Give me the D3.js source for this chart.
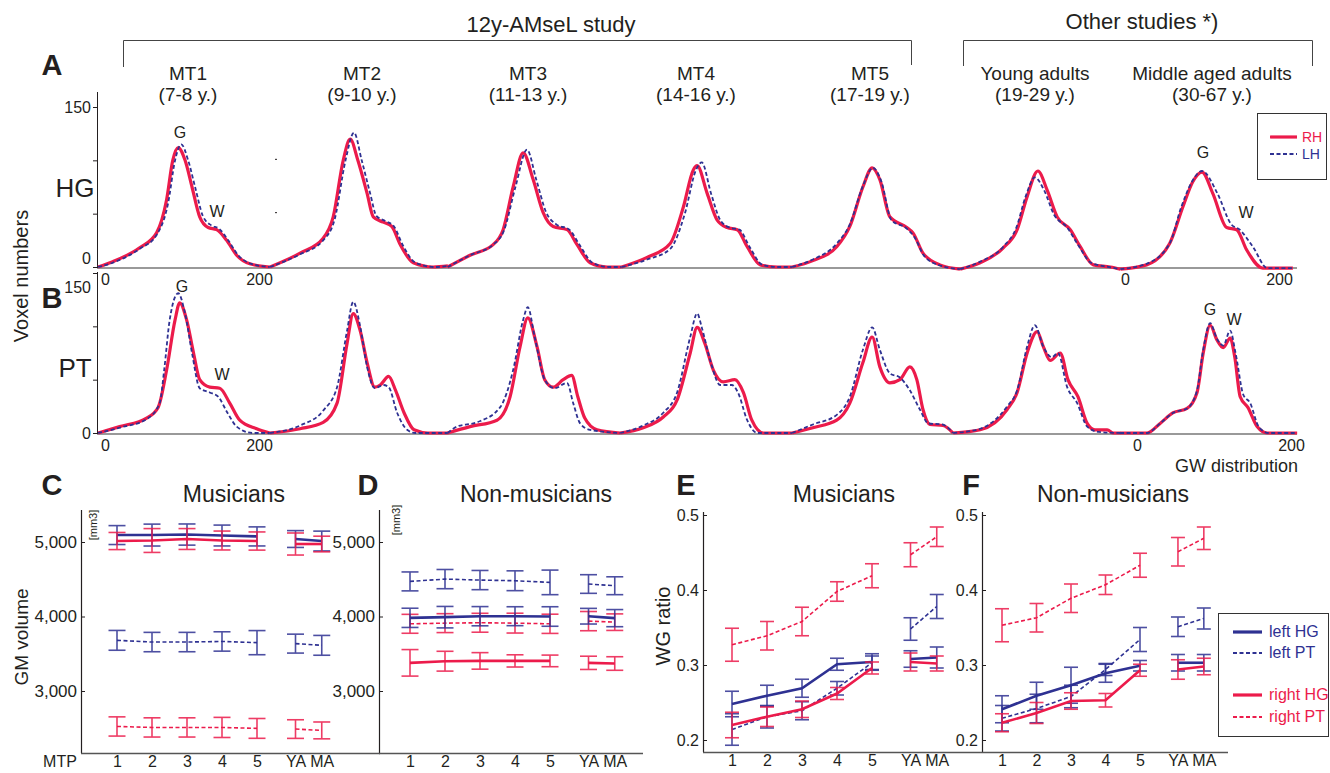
<!DOCTYPE html>
<html>
<head>
<meta charset="utf-8">
<script src="https://cdn.jsdelivr.net/npm/d3@7"></script>
<style>
  body { margin: 0; background: #fff; }
  svg text { font-family: "Liberation Sans", Arial, Helvetica, sans-serif; fill: #231f20; }
</style>
</head>
<body>
<svg id="fig" width="1330" height="773"></svg>
<script>
// ---------- data: GW distributions (pairs of [GW value, voxel number]) ----------
var groupNames = ["MT1", "MT2", "MT3", "MT4", "MT5", "Young adults", "Middle aged adults"];
var groupAges = ["(7-8 y.)", "(9-10 y.)", "(11-13 y.)", "(14-16 y.)", "(17-19 y.)", "(19-29 y.)", "(30-67 y.)"];

var hgRH = [
  [[-9,0],[10,5],[45,18],[67,32],[80,63],[88,100],[95,112],[104,100],[113,75],[123,47],[134,37],[145,35],[158,25],[171,11],[188,3],[214,0]],
  [[-9,0],[30,13],[60,27],[73,47],[86,100],[95,120],[105,100],[117,69],[125,47],[138,42],[149,38],[160,21],[177,4],[203,0],[222,1]],
  [[-3,0],[26,11],[56,21],[69,35],[82,75],[95,107],[108,82],[121,51],[134,38],[152,35],[165,21],[182,4],[204,0],[223,0]],
  [[-3,0],[30,9],[60,22],[77,56],[90,91],[95,95],[108,69],[121,44],[134,37],[147,35],[160,19],[177,2],[199,0],[218,0]],
  [[-9,0],[18,6],[49,19],[66,38],[83,75],[95,93],[105,82],[118,47],[140,37],[148,32],[161,13],[183,2],[209,-2]],
  [[-5,-2],[21,4],[51,18],[69,35],[82,66],[96,90],[108,72],[121,47],[138,35],[151,19],[168,2],[190,0],[203,-2]],
  [[-6,-2],[28,2],[58,22],[75,56],[88,80],[100,89],[114,69],[132,37],[145,35],[158,16],[179,-1],[218,-1]]
];
var hgLH = [
  [[-9,0],[10,4],[45,17],[67,30],[82,60],[91,100],[99,115],[108,100],[117,75],[127,48],[138,39],[148,36],[160,25],[173,11],[190,3],[214,0]],
  [[-9,0],[30,12],[60,25],[75,45],[89,100],[100,126],[110,100],[121,69],[129,48],[141,43],[152,38],[163,21],[180,4],[205,0],[222,1]],
  [[-3,0],[26,11],[56,21],[70,34],[85,75],[100,110],[112,82],[125,51],[138,40],[155,35],[168,21],[185,4],[206,0],[223,0]],
  [[-3,0],[30,7],[60,17],[79,50],[93,90],[101,98],[113,69],[125,44],[137,37],[150,35],[163,19],[180,2],[200,0],[218,0]],
  [[-9,0],[18,7],[49,22],[66,40],[83,76],[96,93],[107,80],[120,44],[140,36],[150,28],[163,10],[185,1],[209,-2]],
  [[-5,-2],[21,5],[51,19],[68,37],[80,66],[92,84],[104,72],[117,49],[134,37],[148,21],[165,4],[188,0],[203,-2]],
  [[-6,-2],[28,3],[58,22],[73,56],[87,80],[100,90],[120,69],[138,40],[149,35],[166,19],[185,-1],[218,-1]]
];
var ptRH = [
  [[-9,0],[19,6],[54,14],[69,24],[80,59],[91,106],[97,122],[106,106],[115,75],[123,50],[136,43],[149,42],[162,28],[175,12],[197,4],[214,0]],
  [[-9,0],[30,4],[60,10],[78,28],[91,84],[99,112],[108,96],[117,66],[127,43],[134,45],[145,53],[154,40],[165,19],[178,3],[196,0],[222,0]],
  [[-3,0],[26,6],[61,12],[78,34],[91,81],[101,108],[113,81],[123,50],[134,43],[147,50],[158,54],[166,34],[175,14],[191,3],[221,0]],
  [[-5,0],[25,5],[51,15],[69,31],[86,75],[95,99],[105,84],[116,59],[129,48],[144,50],[155,38],[166,12],[181,0],[218,0]],
  [[-9,0],[18,5],[49,12],[66,28],[83,66],[95,90],[105,62],[118,47],[131,50],[144,62],[153,50],[161,22],[170,8],[187,7],[200,0]],
  [[-14,0],[21,3],[56,22],[69,38],[82,75],[95,95],[103,81],[112,68],[125,75],[135,50],[148,34],[160,9],[170,3],[186,3],[194,0],[203,0]],
  [[-22,0],[13,0],[30,9],[47,19],[65,23],[78,38],[86,75],[95,101],[104,87],[112,80],[121,89],[127,71],[134,34],[144,24],[156,6],[169,0],[208,0]]
];
var ptLH = [
  [[-9,0],[19,5],[54,13],[71,28],[77,60],[84,106],[95,131],[104,112],[113,75],[123,42],[136,38],[147,34],[159,19],[171,6],[192,0],[214,0]],
  [[-9,0],[30,7],[60,21],[78,43],[91,96],[99,123],[108,100],[117,62],[127,42],[138,45],[145,43],[156,19],[169,3],[180,0],[222,0]],
  [[-3,0],[9,6],[35,10],[65,24],[82,59],[95,106],[101,118],[110,90],[123,50],[136,42],[152,47],[160,28],[169,9],[182,3],[221,0]],
  [[-5,0],[25,7],[51,19],[69,38],[86,90],[95,112],[101,99],[112,68],[125,45],[140,45],[148,38],[160,12],[173,0],[218,0]],
  [[-9,0],[18,8],[49,17],[66,34],[83,78],[95,99],[105,78],[118,56],[131,52],[144,40],[157,22],[168,9],[186,8],[200,0]],
  [[-14,0],[21,4],[56,25],[69,40],[82,81],[92,101],[103,81],[114,71],[122,75],[134,43],[147,28],[160,6],[175,1],[203,0]],
  [[-22,0],[13,0],[30,9],[47,19],[65,23],[78,40],[86,78],[95,103],[104,88],[112,82],[121,96],[128,75],[138,36],[147,28],[158,6],[171,0],[208,0]]
];

// ---------- data: GM volume and WG ratio, [mean, error] per time point ----------
var mtpLabels = ["1", "2", "3", "4", "5", "YA", "MA"];

var musGM_leftHG  = [[5093,127],[5093,147],[5100,142],[5087,140],[5075,128],[5040,113],[5013,133]];
var musGM_rightHG = [[5013,115],[5020,160],[5040,140],[5020,127],[5013,122],[4973,148],[4973,105]];
var musGM_leftPT  = [[3680,133],[3657,130],[3657,130],[3665,130],[3649,162],[3636,127],[3613,133]];
var musGM_rightPT = [[2524,129],[2511,129],[2511,129],[2511,135],[2498,133],[2489,125],[2471,113]];

var nonGM_leftHG  = [[3982,129],[3991,144],[4004,129],[4004,127],[4000,131],[4004,105],[3978,115]];
var nonGM_rightHG = [[3378,178],[3400,133],[3404,111],[3404,82],[3404,78],[3378,89],[3369,91]];
var nonGM_leftPT  = [[4471,127],[4502,129],[4489,129],[4480,133],[4458,165],[4436,125],[4413,120]];
var nonGM_rightPT = [[3902,127],[3911,127],[3916,127],[3911,133],[3902,129],[3938,129],[3924,111]];

var musWG_leftHG  = [[0.248,0.017],[0.259,0.014],[0.269,0.012],[0.301,0.008],[0.304,0.011],[0.308,0.011],[0.310,0.014]];
var musWG_rightHG = [[0.220,0.017],[0.231,0.013],[0.241,0.011],[0.262,0.008],[0.296,0.008],[0.304,0.012],[0.302,0.010]];
var musWG_leftPT  = [[0.214,0.021],[0.231,0.015],[0.239,0.012],[0.269,0.009],[0.303,0.009],[0.348,0.015],[0.378,0.016]];
var musWG_rightPT = [[0.327,0.022],[0.339,0.019],[0.358,0.019],[0.398,0.013],[0.419,0.016],[0.447,0.016],[0.471,0.013]];

var nonWG_leftHG  = [[0.241,0.018],[0.259,0.018],[0.273,0.024],[0.289,0.012],[0.299,0.007],[0.303,0.011],[0.303,0.011]];
var nonWG_rightHG = [[0.223,0.012],[0.236,0.014],[0.252,0.011],[0.253,0.009],[0.293,0.008],[0.294,0.013],[0.298,0.011]];
var nonWG_leftPT  = [[0.229,0.017],[0.242,0.019],[0.258,0.015],[0.294,0.008],[0.334,0.016],[0.351,0.013],[0.362,0.014]];
var nonWG_rightPT = [[0.353,0.022],[0.363,0.019],[0.389,0.019],[0.407,0.013],[0.433,0.016],[0.451,0.019],[0.469,0.015]];

// ---------- layout ----------
var RED = "#ec1b4b", BLUE = "#2e3192", INK = "#231f20";
var mtpPos = [1, 2, 3, 4, 5, 6.1, 6.85];
var originA = [105, 277, 450, 624, 799, 964, 1125],
    originB = [105, 277, 450, 624, 799, 964, 1137],
    titleX  = [188, 362, 528, 696, 870, 1035, 1212];

var svg = d3.select("#fig");

function txt(x, y, s, size, opts) {
  opts = opts || {};
  var t = svg.append("text").attr("x", x).attr("y", y)
    .attr("text-anchor", opts.anchor || "middle")
    .style("font-size", size + "px").text(s);
  if (opts.bold) t.style("font-weight", "bold");
  if (opts.color) t.style("fill", opts.color);
  if (opts.rotate) t.attr("transform", "rotate(-90," + x + "," + y + ")");
  return t;
}

// header brackets
svg.append("path").attr("d", "M123.5,67V40.5H911.5V65").attr("fill", "none").attr("stroke", "#444");
svg.append("path").attr("d", "M963.5,66V40.5H1312.5V66").attr("fill", "none").attr("stroke", "#444");
txt(551, 32, "12y-AMseL study", 22);
txt(1142, 29, "Other studies *)", 22);

groupNames.forEach(function (g, i) {
  txt(titleX[i], 80, g, 19);
  txt(titleX[i], 101, groupAges[i], 19);
});

// ---------- panels A and B ----------
function distPanel(rh, lh, origins, y, base, axisTop) {
  var g = svg.append("g");
  g.append("line").attr("x1", 97).attr("x2", 1297).attr("y1", base).attr("y2", base)
    .attr("stroke", "#777").attr("stroke-width", 1.3);

  var yAxis = g.append("g").attr("transform", "translate(97,0)")
    .call(d3.axisLeft(y).tickValues([0, 50, 100, 150]).tickSize(4).tickPadding(2)
      .tickFormat(function (d) { return (d === 0 || d === 150) ? d : ""; }));
  yAxis.select(".domain").remove();
  yAxis.selectAll("line").attr("stroke", INK);
  yAxis.selectAll("text").style("font-size", "16px").style("fill", INK);
  g.append("line").attr("x1", 97.5).attr("x2", 97.5).attr("y1", axisTop).attr("y2", base)
    .attr("stroke", INK);

  rh.forEach(function (d, i) {
    var x = d3.scaleLinear().domain([0, 200]).range([origins[i], origins[i] + 154]);
    var line = d3.line().x(function (p) { return x(p[0]); }).y(function (p) { return y(p[1]); })
      .curve(d3.curveMonotoneX);
    g.append("path").datum(d).attr("d", line).attr("fill", "none")
      .attr("stroke", RED).attr("stroke-width", 3.2);
    g.append("path").datum(lh[i]).attr("d", line).attr("fill", "none")
      .attr("stroke", BLUE).attr("stroke-width", 1.8).attr("stroke-dasharray", "4,2.5");
    if (i === 0 || i === rh.length - 1) {
      var xa = g.append("g").attr("transform", "translate(0," + base + ")")
        .call(d3.axisBottom(x).tickValues([0, 200]).tickSize(0).tickPadding(6));
      xa.select(".domain").remove();
      xa.selectAll("text").style("font-size", "16px").style("fill", INK);
    }
  });
  return yAxis;
}

var yA = d3.scaleLinear().domain([0, 150]).range([267, 107]);
var yB = d3.scaleLinear().domain([0, 150]).range([433, 273]);
var axA = distPanel(hgRH, hgLH, originA, yA, 268, 92);
var axB = distPanel(ptRH, ptLH, originB, yB, 434, 272);
axA.selectAll(".tick").filter(function (d) { return d === 0; }).select("text").attr("dy", "-0.25em");
axB.selectAll(".tick").filter(function (d) { return d === 150; }).select("text").attr("dy", "1.2em");

// little ticks on the second group's axis
[50, 100].forEach(function (v) {
  svg.append("line").attr("x1", 275).attr("x2", 277).attr("y1", yA(v) - 1).attr("y2", yA(v) - 1)
    .attr("stroke", INK);
});

txt(52, 75, "A", 29, { bold: true });
txt(52, 308, "B", 29, { bold: true });
txt(75, 197, "HG", 26);
txt(75, 377, "PT", 26);
txt(28, 276, "Voxel numbers", 20, { rotate: true });
txt(180, 138, "G", 16); txt(217, 217, "W", 16);
txt(1203, 158, "G", 16); txt(1246, 218, "W", 16);
txt(182, 292, "G", 16); txt(222, 380, "W", 16);
txt(1210, 315, "G", 16); txt(1234, 325, "W", 16);
txt(1298, 472, "GW distribution", 18, { anchor: "end" });

// legend A
svg.append("rect").attr("x", 1257.5).attr("y", 113.5).attr("width", 69).attr("height", 66)
  .attr("fill", "#fff").attr("stroke", "#333");
svg.append("line").attr("x1", 1270).attr("x2", 1297).attr("y1", 137).attr("y2", 137)
  .attr("stroke", RED).attr("stroke-width", 3.2);
svg.append("line").attr("x1", 1270).attr("x2", 1297).attr("y1", 154).attr("y2", 154)
  .attr("stroke", BLUE).attr("stroke-width", 1.8).attr("stroke-dasharray", "4,2.5");
txt(1302, 142, "RH", 14, { anchor: "start", color: RED });
txt(1302, 159, "LH", 14, { anchor: "start", color: BLUE });

// ---------- panels C to F ----------
var seriesStyle = {
  leftPT:  { color: BLUE, width: 1.6, dash: "4,2.5" },
  rightPT: { color: RED,  width: 1.6, dash: "4,2.5" },
  leftHG:  { color: BLUE, width: 2.6, dash: null },
  rightHG: { color: RED,  width: 2.6, dash: null }
};

function errPanel(p) {
  var g = svg.append("g");
  var x = d3.scaleLinear().domain([1, 2]).range([p.x1, p.x1 + p.step]);
  var y = p.y;

  var yAxis = g.append("g").attr("transform", "translate(" + p.ax + ",0)")
    .call(d3.axisLeft(y).tickValues(p.ticks).tickFormat(p.fmt).tickSizeInner(-4).tickSizeOuter(0).tickPadding(4));
  yAxis.select(".domain").remove();
  yAxis.selectAll("line").attr("stroke", INK);
  yAxis.selectAll("text").style("font-size", p.fs + "px").style("fill", INK);
  g.append("line").attr("x1", p.ax + 0.5).attr("x2", p.ax + 0.5).attr("y1", p.top).attr("y2", p.bottom)
    .attr("stroke", INK).attr("stroke-width", 1.2);
  g.append("line").attr("x1", p.ax).attr("x2", p.xEnd).attr("y1", p.bottom + 0.5).attr("y2", p.bottom + 0.5)
    .attr("stroke", "#555").attr("stroke-width", 1.3);

  var xAxis = g.append("g").attr("transform", "translate(0," + p.bottom + ")")
    .call(d3.axisBottom(x).tickValues(mtpPos).tickSize(0).tickPadding(3)
      .tickFormat(function (d, i) { return mtpLabels[i]; }));
  xAxis.select(".domain").remove();
  xAxis.selectAll("text").style("font-size", "16px").style("fill", INK);

  ["leftPT", "rightPT", "leftHG", "rightHG"].forEach(function (k) {
    var s = seriesStyle[k], data = p.series[k];
    var pts = data.map(function (d, i) { return { x: mtpPos[i], m: d[0], e: d[1] }; });
    var line = d3.line().x(function (d) { return x(d.x); }).y(function (d) { return y(d.m); });
    [pts.slice(0, 5), pts.slice(5)].forEach(function (seg) {
      g.append("path").datum(seg).attr("d", line).attr("fill", "none")
        .attr("stroke", s.color).attr("stroke-width", s.width)
        .attr("stroke-dasharray", s.dash);
    });
    var eb = g.append("g").attr("stroke", s.color).attr("stroke-width", 1.6).attr("opacity", 0.85);
    pts.forEach(function (d) {
      var cx = x(d.x), y0 = y(d.m - d.e), y1 = y(d.m + d.e), w = p.cap / 2;
      eb.append("line").attr("x1", cx).attr("x2", cx).attr("y1", y0).attr("y2", y1);
      eb.append("line").attr("x1", cx - w).attr("x2", cx + w).attr("y1", y0).attr("y2", y0);
      eb.append("line").attr("x1", cx - w).attr("x2", cx + w).attr("y1", y1).attr("y2", y1);
    });
  });
}

var yGM = d3.scaleLinear().domain([3000, 5000]).range([691, 542]);
var yWG = d3.scaleLinear().domain([0.2, 0.5]).range([740, 515]);
var fmtGM = d3.format(","), fmtWG = d3.format(".1f");

errPanel({ ax: 81, top: 510, bottom: 753, xEnd: 380, x1: 117, step: 35, y: yGM, ticks: [3000, 4000, 5000], fmt: fmtGM, fs: 17, cap: 17,
  series: { leftHG: musGM_leftHG, rightHG: musGM_rightHG, leftPT: musGM_leftPT, rightPT: musGM_rightPT } });
errPanel({ ax: 379, top: 510, bottom: 753, xEnd: 643, x1: 410, step: 35, y: yGM, ticks: [3000, 4000, 5000], fmt: fmtGM, fs: 17, cap: 17,
  series: { leftHG: nonGM_leftHG, rightHG: nonGM_rightHG, leftPT: nonGM_leftPT, rightPT: nonGM_rightPT } });
errPanel({ ax: 703, top: 512, bottom: 752, xEnd: 982, x1: 732, step: 35, y: yWG, ticks: [0.2, 0.3, 0.4, 0.5], fmt: fmtWG, fs: 16, cap: 14,
  series: { leftHG: musWG_leftHG, rightHG: musWG_rightHG, leftPT: musWG_leftPT, rightPT: musWG_rightPT } });
errPanel({ ax: 982, top: 512, bottom: 752, xEnd: 1228, x1: 1002, step: 34.5, y: yWG, ticks: [0.2, 0.3, 0.4, 0.5], fmt: fmtWG, fs: 16, cap: 14,
  series: { leftHG: nonWG_leftHG, rightHG: nonWG_rightHG, leftPT: nonWG_leftPT, rightPT: nonWG_rightPT } });

txt(52, 495, "C", 29, { bold: true });
txt(368, 495, "D", 29, { bold: true });
txt(686, 495, "E", 29, { bold: true });
txt(971, 495, "F", 29, { bold: true });
txt(234, 502, "Musicians", 23);
txt(536, 502, "Non-musicians", 23);
txt(844, 502, "Musicians", 23);
txt(1113, 502, "Non-musicians", 23);
txt(28, 637, "GM volume", 19, { rotate: true });
txt(670, 626, "WG ratio", 20, { rotate: true });
txt(97, 525, "[mm3]", 11, { rotate: true });
txt(400, 520, "[mm3]", 11, { rotate: true });
txt(60, 767, "MTP", 16);

// legend E/F
svg.append("rect").attr("x", 1218.5).attr("y", 613.5).attr("width", 110).attr("height", 123)
  .attr("fill", "#fff").attr("stroke", "#333");
[["left HG", "leftHG", 632], ["left PT", "leftPT", 653], ["right HG", "rightHG", 695], ["right PT", "rightPT", 717]]
  .forEach(function (e) {
    var s = seriesStyle[e[1]];
    svg.append("line").attr("x1", 1233).attr("x2", 1262).attr("y1", e[2]).attr("y2", e[2])
      .attr("stroke", s.color).attr("stroke-width", s.width + 0.6).attr("stroke-dasharray", s.dash);
    txt(1269, e[2] + 5, e[0], 16, { anchor: "start", color: s.color });
  });
</script>
</body>
</html>
